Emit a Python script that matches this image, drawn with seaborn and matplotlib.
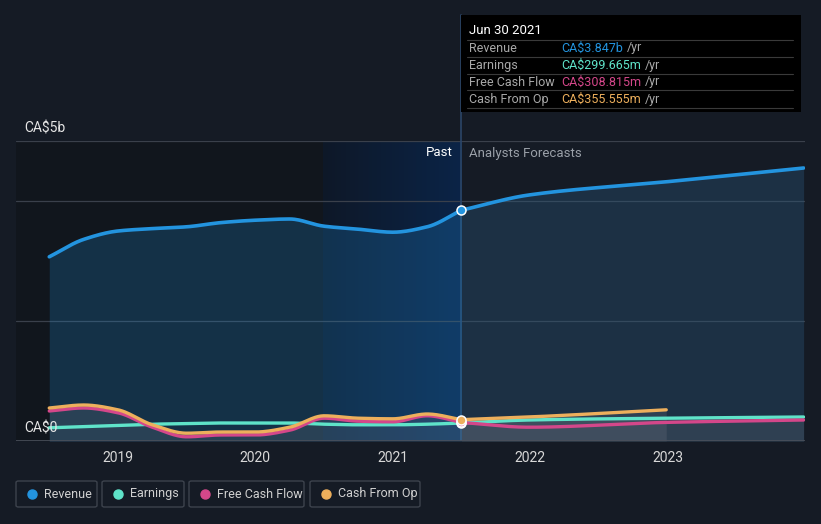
import numpy as np
import pandas as pd
import matplotlib
matplotlib.use("Agg")
import matplotlib.pyplot as plt
import seaborn as sns
from matplotlib.patches import Rectangle, FancyBboxPatch
from matplotlib.colors import LinearSegmentedColormap

# ---------------- data (CA$ billions) ----------------
past_t = [2018.5, 2018.75, 2019.0, 2019.25, 2019.5, 2019.75, 2020.0, 2020.25,
          2020.5, 2020.75, 2021.0, 2021.25, 2021.5]
revenue_past = [3.07, 3.36, 3.50, 3.54, 3.57, 3.64, 3.68, 3.70, 3.58, 3.53, 3.48, 3.57, 3.847]
earnings_past = [0.22, 0.24, 0.26, 0.28, 0.29, 0.30, 0.30, 0.30, 0.28, 0.27, 0.27, 0.28, 0.2997]
fcf_past = [0.50, 0.55, 0.47, 0.23, 0.07, 0.10, 0.10, 0.18, 0.38, 0.33, 0.32, 0.42, 0.3088]
cfo_past = [0.55, 0.60, 0.52, 0.27, 0.13, 0.15, 0.15, 0.23, 0.42, 0.38, 0.37, 0.45, 0.3556]

fc_t = [2021.5, 2021.99, 2022.99, 2023.99]
revenue_fc = [3.847, 4.10, 4.32, 4.55]
earnings_fc = [0.2997, 0.35, 0.38, 0.40]
fcf_fc = [0.3088, 0.23, 0.31, 0.35]
cfo_fc_t = [2021.5, 2021.99, 2022.99]
cfo_fc = [0.3556, 0.40, 0.52]

year_ticks = [2019, 2020, 2021, 2022, 2023]
series_names = ["Revenue", "Earnings", "Free Cash Flow", "Cash From Op"]
tooltip_values = ["CA$3.847b", "CA$299.665m", "CA$308.815m", "CA$355.555m"]
colors = ["#2394df", "#5fe3c9", "#d4478a", "#edaf5c"]

# ---------------- helpers ----------------
def pchip(x, y, n=300):
    x = np.asarray(x, float); y = np.asarray(y, float)
    h = np.diff(x); d = np.diff(y) / h
    m = np.zeros_like(y)
    for k in range(1, len(x) - 1):
        if d[k - 1] * d[k] > 0:
            w1 = 2 * h[k] + h[k - 1]; w2 = h[k] + 2 * h[k - 1]
            m[k] = (w1 + w2) / (w1 / d[k - 1] + w2 / d[k])
    m[0] = d[0]; m[-1] = d[-1]
    xs = np.linspace(x[0], x[-1], n)
    idx = np.clip(np.searchsorted(x, xs) - 1, 0, len(x) - 2)
    t = (xs - x[idx]) / h[idx]
    h00 = 2 * t**3 - 3 * t**2 + 1; h10 = t**3 - 2 * t**2 + t
    h01 = -2 * t**3 + 3 * t**2; h11 = t**3 - t**2
    ys = h00 * y[idx] + h10 * h[idx] * m[idx] + h01 * y[idx + 1] + h11 * h[idx] * m[idx + 1]
    return xs, ys

FIG_BG = "#151b25"
W, H = 821, 524
fig = plt.figure(figsize=(W / 100, H / 100), dpi=100, facecolor=FIG_BG)
sns.set_style("dark")
plt.rcParams['font.family'] = ['Roboto', 'DejaVu Sans']

x0, x1, yb, yt = 16, 805, 441, 141
ax = fig.add_axes([x0 / W, (H - yb) / H, (x1 - x0) / W, (yb - yt) / H])
ax.set_facecolor(FIG_BG)
XMIN, XMAX = 2018.258, 2024.0
ax.set_xlim(XMIN, XMAX)
ax.set_ylim(0, 5)
for s in ax.spines.values():
    s.set_visible(False)

NOW = 2021.5
ax.axvspan(XMIN, NOW, color="#11161d", zorder=0, lw=0)
grad = np.linspace(0, 1, 256).reshape(1, -1)
cmap = LinearSegmentedColormap.from_list("g", ["#0e1828", "#0b2447"])
ax.imshow(grad, extent=[2020.49, NOW, 0, 5], aspect="auto", cmap=cmap, zorder=0.5)

for gy in [2, 4, 5]:
    ax.axhline(gy, color="#3a404b", lw=0.9, zorder=1)
ax.axhline(0, color="#4a505b", lw=1.2, zorder=6)

# revenue past
xs, ys = pchip(past_t, revenue_past)
ax.fill_between(xs, 0, ys, color=colors[0], alpha=0.22, lw=0, zorder=2)
sns.lineplot(x=xs, y=ys, color=colors[0], lw=2.6, ax=ax, zorder=3, estimator=None, sort=False)
# revenue forecast
xs, ys = pchip(fc_t, revenue_fc)
ax.fill_between(xs, 0, ys, color="#2a5a80", alpha=0.35, lw=0, zorder=2)
sns.lineplot(x=xs, y=ys, color=colors[0], lw=2.6, ax=ax, zorder=3, estimator=None, sort=False)

for ts, vals in [(past_t, cfo_past), (cfo_fc_t, cfo_fc), (fc_t, earnings_fc)]:
    xs, ys = pchip(ts, vals)
    ax.fill_between(xs, 0, ys, color="#8a8a95", alpha=0.18, lw=0, zorder=2.2)

for ts, vals, c in [(past_t, earnings_past, colors[1]), (fc_t, earnings_fc, colors[1]),
                    (past_t, fcf_past, colors[2]), (fc_t, fcf_fc, colors[2]),
                    (past_t, cfo_past, colors[3]), (cfo_fc_t, cfo_fc, colors[3])]:
    xs, ys = pchip(ts, vals)
    sns.lineplot(x=xs, y=ys, color=c, lw=2.4, ax=ax, zorder=4, estimator=None, sort=False)

for v, c in zip([revenue_past[-1], earnings_past[-1], fcf_past[-1], cfo_past[-1]], colors):
    ax.scatter([NOW], [v], s=42, color=c, edgecolor="white", linewidth=1.1, zorder=7)

ax.axvline(NOW, color="#2b4668", lw=1.2, zorder=1.5)

ax.set_xticks(year_ticks)
ax.set_xticklabels([str(y) for y in year_ticks], color="#d8d8d8", fontsize=10)
ax.tick_params(axis="x", length=4, width=1, color="#4a505b", pad=3)
ax.set_yticks([])
ax.set_xlabel(""); ax.set_ylabel("")
ax.grid(False)

def px(x, y):
    return x / W, 1 - y / H

fig.text(*px(24, 129), "CA$5b", color="#e6e6e6", fontsize=10, va="center", ha="left", parse_math=False)
fig.text(*px(24, 429), "CA$0", color="#e6e6e6", fontsize=10, va="center", ha="left", parse_math=False)
fig.text(*px(453, 153), "Past", color="#ffffff", fontsize=9.5, va="center", ha="right")
fig.text(*px(469, 153), "Analysts Forecasts", color="#9aa0a8", fontsize=9.5, va="center", ha="left")

fig.add_artist(plt.Line2D([461 / W, 461 / W], [1 - 141 / H, 1 - 15 / H], color="#2b4668", lw=1.2))

# tooltip
bx0, by0, bx1, by1 = 461, 15, 801, 112
fig.add_artist(Rectangle((bx0 / W, 1 - by1 / H), (bx1 - bx0) / W, (by1 - by0) / H,
                         facecolor="#000000", edgecolor="none", zorder=10))
fig.text(*px(469, 31), "Jun 30 2021", color="#ffffff", fontsize=9.5, va="center", zorder=11)
row_y = [48, 65, 82, 99]
fig.canvas.draw()
r = fig.canvas.get_renderer()
for i, (name, val, c) in enumerate(zip(series_names, tooltip_values, colors)):
    sep = row_y[i] - 8.5
    fig.add_artist(plt.Line2D([467 / W, 793 / W], [1 - sep / H] * 2, color="#3a3a3a", lw=0.8, zorder=11))
    fig.text(*px(469, row_y[i]), name, color="#a8a8a8", fontsize=9, va="center", zorder=11)
    t = fig.text(*px(561, row_y[i]), val, color=c, fontsize=9, va="center", zorder=11, parse_math=False)
    bb = t.get_window_extent(renderer=r)
    fig.text((bb.x1 + 4) / W, 1 - row_y[i] / H, "/yr", color="#a8a8a8", fontsize=9, va="center", zorder=11)
fig.add_artist(plt.Line2D([467 / W, 793 / W], [1 - 107.5 / H] * 2, color="#3a3a3a", lw=0.8, zorder=11))

# legend boxes
legend_boxes = [(16, 97), (102, 184), (189, 304), (310, 420)]
for (lx0, lx1), name, c in zip(legend_boxes, series_names, colors):
    fig.add_artist(FancyBboxPatch((lx0 / W, 1 - 507 / H), (lx1 - lx0) / W, 26 / H,
                                  boxstyle="round,pad=0,rounding_size=0.003",
                                  facecolor="none", edgecolor="#3d434d", lw=1))
    fig.add_artist(plt.Line2D([(lx0 + 16) / W], [1 - 494 / H], marker="o", markersize=6.5,
                              color=c, lw=0))
    fig.text((lx0 + 28) / W, 1 - 494 / H, name, color="#d0d0d0", fontsize=9, va="center")

fig.savefig("out.png", dpi=100, facecolor=FIG_BG)
